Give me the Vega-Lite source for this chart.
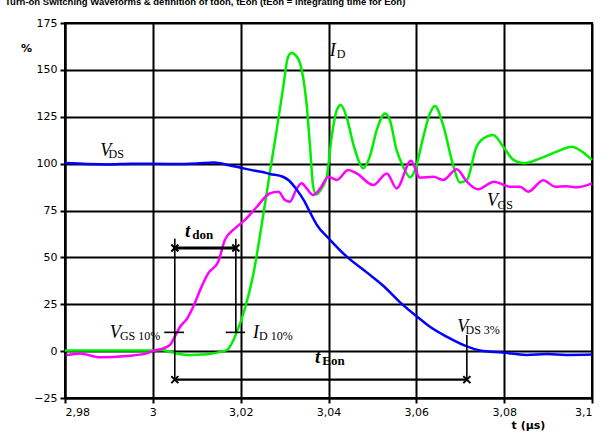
{
  "$schema": "https://vega.github.io/schema/vega-lite/v6.json",
  "width": 527,
  "height": 375,
  "autosize": {"type": "none"},
  "padding": {"left": 65, "top": 23, "right": 24, "bottom": 39},
  "background": "white",
  "title": {
    "text": "Turn-on Switching Waveforms & definition of tdon, tEon (tEon = integrating time for Eon)",
    "anchor": "start",
    "frame": "group",
    "dx": -60,
    "offset": 11,
    "font": "Liberation Sans",
    "fontSize": 9.5,
    "fontWeight": "bold",
    "color": "black"
  },
  "config": {
    "view": {"stroke": "black", "strokeWidth": 2},
    "axis": {
      "domainColor": "black",
      "domainWidth": 2,
      "gridColor": "black",
      "gridWidth": 2,
      "gridOpacity": 1,
      "tickColor": "black",
      "tickWidth": 2,
      "tickSize": 5,
      "labelFont": "DejaVu Sans",
      "labelFontSize": 11,
      "labelColor": "black",
      "titleFont": "DejaVu Sans",
      "titleFontSize": 11,
      "titleFontWeight": "bold",
      "titleColor": "black"
    }
  },
  "datasets": {
    "curves": [
      {"s":"ID","t":2.980,"v":0.3},{"s":"ID","t":2.990,"v":0.3},{"s":"ID","t":3.000,"v":0.3},{"s":"ID","t":3.002,"v":0.6},{"s":"ID","t":3.004,"v":-0.3},{"s":"ID","t":3.006,"v":-1.5},{"s":"ID","t":3.0085,"v":-2},{"s":"ID","t":3.011,"v":-1.8},{"s":"ID","t":3.013,"v":-1.5},{"s":"ID","t":3.0146,"v":-0.8},{"s":"ID","t":3.0169,"v":0.6},{"s":"ID","t":3.0191,"v":10},{"s":"ID","t":3.021,"v":23},{"s":"ID","t":3.0228,"v":40},{"s":"ID","t":3.0251,"v":72},{"s":"ID","t":3.0267,"v":96},{"s":"ID","t":3.0282,"v":118},{"s":"ID","t":3.0297,"v":141},{"s":"ID","t":3.0308,"v":157},{"s":"ID","t":3.0316,"v":159},{"s":"ID","t":3.0328,"v":157},{"s":"ID","t":3.0339,"v":150},{"s":"ID","t":3.0350,"v":132},{"s":"ID","t":3.0358,"v":109},{"s":"ID","t":3.0365,"v":88},{"s":"ID","t":3.0372,"v":83.5},{"s":"ID","t":3.0385,"v":87},{"s":"ID","t":3.0396,"v":93},{"s":"ID","t":3.0407,"v":114},{"s":"ID","t":3.0419,"v":128.6},{"s":"ID","t":3.0428,"v":131.3},{"s":"ID","t":3.0441,"v":125},{"s":"ID","t":3.0456,"v":110.8},{"s":"ID","t":3.0468,"v":102},{"s":"ID","t":3.0479,"v":97.5},{"s":"ID","t":3.0494,"v":103.7},{"s":"ID","t":3.0510,"v":118},{"s":"ID","t":3.0529,"v":126.8},{"s":"ID","t":3.0540,"v":123},{"s":"ID","t":3.0555,"v":107.3},{"s":"ID","t":3.0570,"v":98.4},{"s":"ID","t":3.0586,"v":92.7},{"s":"ID","t":3.0597,"v":96.6},{"s":"ID","t":3.0616,"v":114.4},{"s":"ID","t":3.0631,"v":126.8},{"s":"ID","t":3.0642,"v":130.8},{"s":"ID","t":3.0661,"v":120.5},{"s":"ID","t":3.0684,"v":99},{"s":"ID","t":3.0699,"v":90},{"s":"ID","t":3.0715,"v":91.3},{"s":"ID","t":3.0737,"v":109},{"s":"ID","t":3.0760,"v":114.4},{"s":"ID","t":3.0775,"v":115.3},{"s":"ID","t":3.0798,"v":109},{"s":"ID","t":3.0821,"v":102},{"s":"ID","t":3.0844,"v":100.2},{"s":"ID","t":3.0882,"v":102.8},{"s":"ID","t":3.0920,"v":106.4},{"s":"ID","t":3.0954,"v":109},{"s":"ID","t":3.0977,"v":106.4},{"s":"ID","t":3.1000,"v":102},
      {"s":"VGS","t":2.9804,"v":-2.1},{"s":"VGS","t":2.9834,"v":-1.2},{"s":"VGS","t":2.988,"v":-3.3},{"s":"VGS","t":2.994,"v":-2.6},{"s":"VGS","t":2.9986,"v":-1.2},{"s":"VGS","t":3.0001,"v":0.2},{"s":"VGS","t":3.0024,"v":1.5},{"s":"VGS","t":3.0039,"v":3.3},{"s":"VGS","t":3.005,"v":7.7},{"s":"VGS","t":3.0062,"v":13},{"s":"VGS","t":3.0077,"v":17},{"s":"VGS","t":3.0092,"v":23.7},{"s":"VGS","t":3.0111,"v":34.4},{"s":"VGS","t":3.0126,"v":41.5},{"s":"VGS","t":3.0149,"v":47.7},{"s":"VGS","t":3.0164,"v":59.3},{"s":"VGS","t":3.0187,"v":65.5},{"s":"VGS","t":3.021,"v":70},{"s":"VGS","t":3.0237,"v":77},{"s":"VGS","t":3.0267,"v":84.2},{"s":"VGS","t":3.0286,"v":85},{"s":"VGS","t":3.0301,"v":80.6},{"s":"VGS","t":3.0312,"v":79.7},{"s":"VGS","t":3.0328,"v":86.8},{"s":"VGS","t":3.0339,"v":89.5},{"s":"VGS","t":3.035,"v":86.8},{"s":"VGS","t":3.0365,"v":83.3},{"s":"VGS","t":3.0381,"v":86.8},{"s":"VGS","t":3.04,"v":93},{"s":"VGS","t":3.0419,"v":91.3},{"s":"VGS","t":3.0445,"v":96.6},{"s":"VGS","t":3.0464,"v":94.8},{"s":"VGS","t":3.0502,"v":88.6},{"s":"VGS","t":3.0533,"v":94.8},{"s":"VGS","t":3.0555,"v":86.8},{"s":"VGS","t":3.0588,"v":101.5},{"s":"VGS","t":3.0608,"v":92.5},{"s":"VGS","t":3.0639,"v":93},{"s":"VGS","t":3.0661,"v":91.3},{"s":"VGS","t":3.0692,"v":97},{"s":"VGS","t":3.0715,"v":90.4},{"s":"VGS","t":3.074,"v":86.3},{"s":"VGS","t":3.0777,"v":90.4},{"s":"VGS","t":3.0813,"v":87.7},{"s":"VGS","t":3.0836,"v":87.7},{"s":"VGS","t":3.0855,"v":85},{"s":"VGS","t":3.0889,"v":91.2},{"s":"VGS","t":3.0916,"v":87.7},{"s":"VGS","t":3.0942,"v":88},{"s":"VGS","t":3.0965,"v":87.4},{"s":"VGS","t":3.1,"v":89.5},
      {"s":"VDS","t":2.980,"v":100.3},{"s":"VDS","t":2.985,"v":99.8},{"s":"VDS","t":2.990,"v":99.6},{"s":"VDS","t":2.995,"v":100.0},{"s":"VDS","t":3.000,"v":99.9},{"s":"VDS","t":3.005,"v":99.8},{"s":"VDS","t":3.010,"v":100.1},{"s":"VDS","t":3.014,"v":100.6},{"s":"VDS","t":3.017,"v":99.3},{"s":"VDS","t":3.020,"v":97.8},{"s":"VDS","t":3.022,"v":96.8},{"s":"VDS","t":3.025,"v":95.5},{"s":"VDS","t":3.0267,"v":94.5},{"s":"VDS","t":3.0296,"v":93},{"s":"VDS","t":3.031,"v":91},{"s":"VDS","t":3.0328,"v":86},{"s":"VDS","t":3.0345,"v":80},{"s":"VDS","t":3.0358,"v":74},{"s":"VDS","t":3.0373,"v":67.5},{"s":"VDS","t":3.0403,"v":59.5},{"s":"VDS","t":3.0441,"v":50.5},{"s":"VDS","t":3.0487,"v":42},{"s":"VDS","t":3.0524,"v":35},{"s":"VDS","t":3.0563,"v":26},{"s":"VDS","t":3.0601,"v":18.5},{"s":"VDS","t":3.0631,"v":13},{"s":"VDS","t":3.0669,"v":7.7},{"s":"VDS","t":3.0715,"v":2.5},{"s":"VDS","t":3.0745,"v":0.3},{"s":"VDS","t":3.0797,"v":-0.8},{"s":"VDS","t":3.0851,"v":-2},{"s":"VDS","t":3.0897,"v":-1.5},{"s":"VDS","t":3.0942,"v":-2},{"s":"VDS","t":3.1,"v":-1.8}
    ],
    "rules": [
      {"k":"thin","x1":3.005,"x2":3.005,"y1":-15.2,"y2":60},
      {"k":"thin","x1":3.0189,"x2":3.0189,"y1":10,"y2":60},
      {"k":"thin","x1":3.0715,"x2":3.0715,"y1":-15.2,"y2":8.6},
      {"k":"thin","x1":3.0026,"x2":3.0071,"y1":10,"y2":10},
      {"k":"thin","x1":3.0166,"x2":3.021,"y1":10,"y2":10},
      {"k":"thick","x1":3.005,"x2":3.0189,"y1":55,"y2":55},
      {"k":"mid","x1":3.005,"x2":3.0715,"y1":-15.2,"y2":-15.2}
    ],
    "marks": [
      {"x":3.005,"y":55},{"x":3.0189,"y":55},{"x":3.005,"y":-15.2},{"x":3.0715,"y":-15.2}
    ],
    "labels": [
      {"k":"main","x":2.988,"y":104,"txt":"V"},
      {"k":"sub","x":2.9899,"y":103,"txt":"DS"},
      {"k":"main","x":3.0403,"y":157.5,"txt":"I"},
      {"k":"sub","x":3.0419,"y":156.5,"txt":"D"},
      {"k":"main","x":3.0761,"y":77.5,"txt":"V"},
      {"k":"sub","x":3.0785,"y":76,"txt":"GS"},
      {"k":"main","x":2.9902,"y":7,"txt":"V"},
      {"k":"sub","x":2.9925,"y":6,"txt":"GS 10%"},
      {"k":"main","x":3.0228,"y":7,"txt":"I"},
      {"k":"sub","x":3.0242,"y":6,"txt":"D 10%"},
      {"k":"main","x":3.0693,"y":10.4,"txt":"V"},
      {"k":"sub","x":3.0712,"y":9,"txt":"DS 3%"},
      {"k":"bmain","x":3.0073,"y":61,"txt":"t"},
      {"k":"bsub","x":3.009,"y":60,"txt":"don"},
      {"k":"bmain","x":3.0369,"y":-6.3,"txt":"t"},
      {"k":"bsub","x":3.0386,"y":-7.4,"txt":"Eon"}
    ]
  },
  "layer": [
    {
      "data": {"name": "curves"},
      "mark": {"type": "line", "strokeWidth": 2.5, "interpolate": "monotone"},
      "encoding": {
        "x": {
          "field": "t", "type": "quantitative",
          "scale": {"domain": [2.98, 3.1], "nice": false, "zero": false},
          "axis": {
            "values": [2.98, 3.0, 3.02, 3.04, 3.06, 3.08, 3.1],
            "labelExpr": "replace(format(datum.value, '.2~f'), '.', ',')",
            "labelPadding": 3,
            "title": "t (µs)",
            "titleX": 463,
            "titleY": 27,
            "titleAlign": "center",
            "titleBaseline": "middle",
            "titleFontStyle": "normal"
          }
        },
        "y": {
          "field": "v", "type": "quantitative",
          "scale": {"domain": [-25, 175], "nice": false, "zero": false},
          "axis": {
            "values": [-25, 0, 25, 50, 75, 100, 125, 150, 175],
            "labelPadding": 3,
            "title": "%",
            "titleAngle": 0,
            "titleX": -39,
            "titleY": 25,
            "titleAlign": "center",
            "titleBaseline": "middle"
          }
        },
        "color": {
          "field": "s", "type": "nominal",
          "scale": {"domain": ["ID", "VGS", "VDS"], "range": ["#00ee00", "#ff00ff", "#0000ff"]},
          "legend": null
        },
        "detail": {"field": "s"}
      }
    },
    {
      "data": {"name": "rules"},
      "transform": [{"filter": "datum.k == 'thin'"}],
      "mark": {"type": "rule", "color": "black", "strokeWidth": 1.6},
      "encoding": {
        "x": {"field": "x1", "type": "quantitative"},
        "x2": {"field": "x2"},
        "y": {"field": "y1", "type": "quantitative"},
        "y2": {"field": "y2"}
      }
    },
    {
      "data": {"name": "rules"},
      "transform": [{"filter": "datum.k == 'mid'"}],
      "mark": {"type": "rule", "color": "black", "strokeWidth": 2.2},
      "encoding": {
        "x": {"field": "x1", "type": "quantitative"},
        "x2": {"field": "x2"},
        "y": {"field": "y1", "type": "quantitative"},
        "y2": {"field": "y2"}
      }
    },
    {
      "data": {"name": "rules"},
      "transform": [{"filter": "datum.k == 'thick'"}],
      "mark": {"type": "rule", "color": "black", "strokeWidth": 3},
      "encoding": {
        "x": {"field": "x1", "type": "quantitative"},
        "x2": {"field": "x2"},
        "y": {"field": "y1", "type": "quantitative"},
        "y2": {"field": "y2"}
      }
    },
    {
      "data": {"name": "marks"},
      "mark": {"type": "point", "shape": "M-1,-1L1,1M-1,1L1,-1", "filled": false, "stroke": "black", "strokeWidth": 2, "size": 50, "opacity": 1},
      "encoding": {
        "x": {"field": "x", "type": "quantitative"},
        "y": {"field": "y", "type": "quantitative"}
      }
    },
    {
      "data": {"name": "labels"},
      "transform": [{"filter": "datum.k == 'main'"}],
      "mark": {"type": "text", "font": "Liberation Serif", "fontStyle": "italic", "fontSize": 18, "align": "left", "baseline": "alphabetic", "color": "black"},
      "encoding": {
        "x": {"field": "x", "type": "quantitative"},
        "y": {"field": "y", "type": "quantitative"},
        "text": {"field": "txt"}
      }
    },
    {
      "data": {"name": "labels"},
      "transform": [{"filter": "datum.k == 'sub'"}],
      "mark": {"type": "text", "font": "Liberation Serif", "fontSize": 12, "align": "left", "baseline": "alphabetic", "color": "black"},
      "encoding": {
        "x": {"field": "x", "type": "quantitative"},
        "y": {"field": "y", "type": "quantitative"},
        "text": {"field": "txt"}
      }
    },
    {
      "data": {"name": "labels"},
      "transform": [{"filter": "datum.k == 'bmain'"}],
      "mark": {"type": "text", "font": "Liberation Serif", "fontStyle": "italic", "fontWeight": "bold", "fontSize": 19, "align": "left", "baseline": "alphabetic", "color": "black"},
      "encoding": {
        "x": {"field": "x", "type": "quantitative"},
        "y": {"field": "y", "type": "quantitative"},
        "text": {"field": "txt"}
      }
    },
    {
      "data": {"name": "labels"},
      "transform": [{"filter": "datum.k == 'bsub'"}],
      "mark": {"type": "text", "font": "Liberation Serif", "fontWeight": "bold", "fontSize": 13, "align": "left", "baseline": "alphabetic", "color": "black"},
      "encoding": {
        "x": {"field": "x", "type": "quantitative"},
        "y": {"field": "y", "type": "quantitative"},
        "text": {"field": "txt"}
      }
    }
  ]
}
